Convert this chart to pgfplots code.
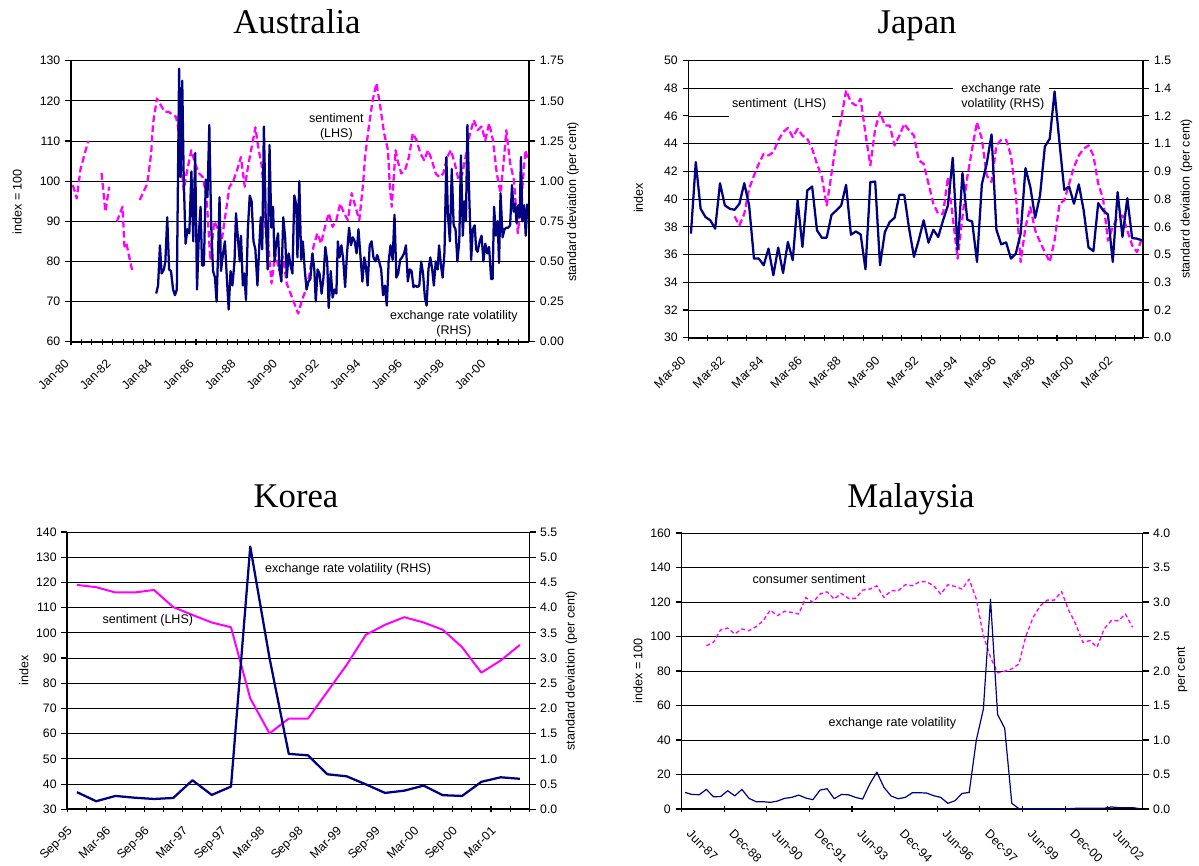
\documentclass[border=0pt]{standalone}
\usepackage{fontspec}
\setmainfont{Liberation Sans}
\newfontfamily\titlefont{Liberation Serif}
\usepackage{pgfplots}
\pgfplotsset{compat=1.18}
\definecolor{navy}{RGB}{0,0,128}
\definecolor{mag}{RGB}{255,0,255}
\pgfplotsset{
  common/.style={scale only axis, axis line style={line width=1.3pt,-},
    tick style={black,line width=0.8pt}, major tick length=4.5pt, minor tick length=4.5pt,
    xtick align=center, ytick align=outside,
    tick label style={font=\fontsize{9.2}{11}\selectfont},
    /pgf/number format/assume math mode=true, scaled y ticks=false,
    unbounded coords=jump},
  lhs/.style={common, axis x line*=bottom, axis y line*=left, ymajorgrids,
    grid style={black,line width=0.6pt}},
  rhs/.style={common, axis x line=none, axis y line*=right},
}
\begin{document}
\begin{tikzpicture}
\path[use as bounding box] (0pt,0pt) rectangle (899.25pt,648.75pt);
\tikzset{lab/.style={font=\fontsize{9.4}{11.25}\selectfont}}
% ---------------- titles -----------------
\node[anchor=base,font=\titlefont\fontsize{26}{30}\selectfont] at (222.75pt,623.25pt) {Australia};
\node[anchor=base,font=\titlefont\fontsize{26}{30}\selectfont] at (687.75pt,623.25pt) {Japan};
\node[anchor=base,font=\titlefont\fontsize{26}{30}\selectfont] at (222pt,268.5pt) {Korea};
\node[anchor=base,font=\titlefont\fontsize{26}{30}\selectfont] at (683.25pt,268.5pt) {Malaysia};
% ---------------- axis labels -----------------
\node[lab,rotate=90] at (12.9pt,497.475pt) {index = 100};
\node[lab,rotate=90] at (429.75pt,497.25pt) {standard deviation (per cent)};
\node[lab,rotate=90] at (478.8pt,500.25pt) {index};
\node[lab,rotate=90] at (889.725pt,499.5pt) {standard deviation (per cent)};
\node[lab,rotate=90] at (17.85pt,145.725pt) {index};
\node[lab,rotate=90] at (428.625pt,145.725pt) {standard deviation (per cent)};
\node[lab,rotate=90] at (478.5pt,145.725pt) {index = 100};
\node[lab,rotate=90] at (886.5pt,146.25pt) {per cent};

% ================= AUSTRALIA =================
\begin{axis}[lhs, at={(53.25pt,392.475pt)}, anchor=south west, width=343.7pt, height=210.75pt,
  xmin=0, xmax=22, ymin=60, ymax=130, ytick={60,70,...,130},
  xtick={0,2,...,20}, minor xtick={0,0.5,...,21.5},
  xticklabel style={anchor=north east, inner sep=1pt, xshift=-5.5pt, yshift=-8.5pt, rotate=45},
  xticklabels={Jan-80,Jan-82,Jan-84,Jan-86,Jan-88,Jan-90,Jan-92,Jan-94,Jan-96,Jan-98,Jan-00}]
\addplot[mag, line width=1.7pt, dash pattern=on 5pt off 2.5pt, line join=round] coordinates {
(0.09,99)(0.275,95.7)(0.458,103)(0.642,106.5)(0.825,110)(1.1,nan)
(1.467,102)(1.65,92.4)(1.833,98.6)(2.0,nan)
(2.2,89.9)(2.475,93.6)(2.566,83.7)(2.658,84.5)(2.933,77.8)(3.1,nan)
(3.3,95.3)(3.666,99.4)(3.85,107)(3.941,114.4)(4.125,120.6)(4.491,117.3)(4.675,117.3)
(5.041,116)(5.133,113.6)(5.408,97.8)(5.591,103)(5.775,107.7)(5.958,104.4)(6.141,102)
(6.325,101)(6.508,96)(6.691,80.3)(6.875,90)(7.058,88)(7.241,85.3)(7.424,92)(7.608,98.6)
(7.791,100)(7.974,102.8)(8.158,106)(8.341,98.6)(8.524,104.4)(8.708,109.4)(8.854,113.4)
(8.983,108.6)(9.166,103.6)(9.349,87)(9.441,86.5)(9.624,74.5)(9.807,82)(9.991,77.8)
(10.174,81.2)(10.357,74.5)(10.541,72)(10.724,69.5)(10.907,67)(11.09,70.4)(11.274,72.9)
(11.457,77)(11.641,83.7)(11.824,87)(12.007,84.5)(12.191,88.6)(12.374,92)(12.557,88.6)
(12.741,90.3)(12.924,94.4)(13.107,92)(13.291,90.3)(13.474,97)(13.657,93.6)(13.841,90.3)
(14.024,99.4)(14.116,106)(14.299,113.6)(14.482,120.2)(14.666,124.4)(14.849,118.5)
(15.032,111.9)(15.216,107.7)(15.307,98.6)(15.399,93.6)(15.582,107.7)(15.674,105.2)
(15.857,101.9)(16.04,102.8)(16.224,106)(16.407,111.9)(16.59,110.2)(16.774,106.9)
(16.957,105.2)(17.14,107.7)(17.324,105.2)(17.507,101.9)(17.69,101)(17.874,101.9)
(18.057,106)(18.24,107.7)(18.423,104.4)(18.607,100.3)(18.79,101.9)(18.973,106.9)
(19.157,111.9)(19.34,115.2)(19.523,112.7)(19.707,113.6)(19.89,110.2)(20.073,114.4)
(20.257,110.2)(20.44,101.9)(20.623,97)(20.807,106.9)(20.898,112.7)(21.082,104.4)
(21.265,100.3)(21.449,87)(21.632,96)(21.815,107.7)(21.944,105.2)};
\node[lab,align=center] at (axis cs:12.74,113.6) {sentiment\\(LHS)};
\node[lab,align=center] at (axis cs:18.38,64.55) {exchange rate volatility\\(RHS)};
\end{axis}
\begin{axis}[rhs, at={(53.25pt,392.475pt)}, anchor=south west, width=343.7pt, height=210.75pt,
  xmin=0, xmax=22, ymin=0, ymax=1.75, ytick={0,0.25,...,1.75},
  yticklabel style={/pgf/number format/.cd, fixed, fixed zerofill, precision=2}]
\addplot[navy, line width=1.7pt, line join=round] coordinates {
(4.09,0.30)(4.18,0.35)(4.27,0.60)(4.35,0.425)(4.46,0.45)(4.53,0.50)(4.62,0.775)(4.71,0.45)
(4.80,0.44)(4.90,0.325)(4.99,0.29)(5.08,0.325)(5.19,1.70)(5.26,1.025)(5.34,1.625)(5.41,1.025)
(5.50,0.61)(5.59,0.70)(5.68,0.675)(5.78,1.06)(5.87,0.625)(5.96,1.175)(6.05,0.325)(6.14,0.675)
(6.22,0.84)(6.29,0.475)(6.38,0.475)(6.47,1.01)(6.55,0.90)(6.64,1.35)(6.73,0.725)(6.82,0.44)
(6.91,0.40)(6.99,0.25)(7.06,0.55)(7.13,0.90)(7.20,0.44)(7.30,0.55)(7.39,0.625)(7.48,0.40)
(7.57,0.20)(7.66,0.44)(7.75,0.35)(7.85,0.50)(7.92,0.80)(8.01,0.65)(8.10,0.50)(8.16,0.66)
(8.25,0.35)(8.32,0.425)(8.40,0.26)(8.49,0.70)(8.58,0.91)(8.67,0.875)(8.76,0.625)(8.85,0.575)
(8.95,0.35)(9.04,0.60)(9.11,0.775)(9.18,0.575)(9.26,1.34)(9.35,0.75)(9.44,0.45)(9.53,1.225)
(9.62,0.71)(9.70,0.84)(9.77,0.50)(9.84,0.60)(9.94,0.675)(10.01,0.45)(10.10,0.375)(10.19,0.775)
(10.28,0.65)(10.36,0.40)(10.45,0.55)(10.54,0.475)(10.63,0.425)(10.72,0.91)(10.82,0.85)
(10.87,0.525)(10.96,1.00)(11.05,0.51)(11.13,0.625)(11.22,0.45)(11.31,0.325)(11.40,0.375)
(11.49,0.39)(11.59,0.55)(11.68,0.45)(11.75,0.25)(11.84,0.45)(11.93,0.425)(12.03,0.30)
(12.12,0.40)(12.21,0.59)(12.30,0.50)(12.37,0.21)(12.47,0.44)(12.56,0.275)(12.65,0.325)
(12.74,0.30)(12.81,0.625)(12.89,0.525)(12.98,0.60)(13.07,0.51)(13.16,0.34)(13.25,0.55)
(13.35,0.71)(13.44,0.60)(13.53,0.65)(13.62,0.625)(13.71,0.55)(13.80,0.70)(13.90,0.525)
(13.99,0.375)(14.08,0.525)(14.15,0.475)(14.24,0.35)(14.34,0.60)(14.43,0.625)(14.52,0.525)
(14.61,0.50)(14.70,0.54)(14.79,0.50)(14.89,0.45)(14.98,0.29)(15.07,0.35)(15.16,0.225)
(15.25,0.50)(15.34,0.60)(15.44,0.51)(15.53,0.79)(15.62,0.40)(15.71,0.425)(15.80,0.51)
(15.89,0.525)(15.99,0.55)(16.08,0.60)(16.17,0.375)(16.26,0.45)(16.35,0.44)(16.44,0.34)
(16.54,0.35)(16.63,0.34)(16.72,0.35)(16.81,0.50)(16.90,0.425)(16.99,0.275)(17.07,0.225)
(17.16,0.45)(17.25,0.525)(17.34,0.45)(17.42,0.35)(17.51,0.50)(17.60,0.45)(17.67,0.60)
(17.76,0.475)(17.84,0.40)(17.93,0.56)(18.02,1.15)(18.09,0.80)(18.19,0.625)(18.28,1.075)
(18.37,0.725)(18.46,0.70)(18.55,0.50)(18.64,0.625)(18.72,1.16)(18.81,0.66)(18.88,0.875)
(18.96,0.75)(19.03,1.35)(19.12,0.90)(19.21,0.51)(19.29,0.70)(19.38,0.725)(19.45,0.575)
(19.52,0.56)(19.62,0.625)(19.71,0.66)(19.80,0.50)(19.89,0.61)(19.98,0.55)(20.07,0.59)
(20.17,0.39)(20.24,0.39)(20.31,0.84)(20.40,0.66)(20.48,0.75)(20.55,0.49)(20.62,0.925)
(20.72,0.65)(20.81,0.70)(20.90,0.71)(20.99,0.71)(21.08,0.725)(21.17,0.975)(21.25,0.81)
(21.32,0.86)(21.39,0.74)(21.47,0.85)(21.54,0.775)(21.60,1.15)(21.67,0.75)(21.76,0.85)
(21.83,0.66)(21.91,0.86)};
\end{axis}

% ================= JAPAN =================
\begin{axis}[lhs, at={(516.375pt,395.475pt)}, anchor=south west, width=341.1pt, height=207.9pt,
  xmin=0, xmax=23.45, ymin=30, ymax=50, ytick={30,32,...,50},
  xtick={0,2,...,22}, minor xtick={0,1,...,23},
  xticklabel style={anchor=north east, inner sep=1pt, xshift=-6pt, yshift=-9.5pt, rotate=45},
  xticklabels={Mar-80,Mar-82,Mar-84,Mar-86,Mar-88,Mar-90,Mar-92,Mar-94,Mar-96,Mar-98,Mar-00,Mar-02}]
\addplot[mag, line width=1.7pt, dash pattern=on 5pt off 2.5pt, line join=round] coordinates {
(2.375,38.75)(2.625,38.1)(2.875,38.94)(3.125,40.75)(3.375,41.7)(3.625,42.55)(3.875,43.27)
(4.125,43.15)(4.375,43.39)(4.625,44.23)(4.875,44.83)(5.125,45.14)(5.375,44.47)(5.625,45.07)
(5.875,44.59)(6.125,44.35)(6.375,43.63)(6.625,42.55)(6.875,41.59)(7.125,39.54)(7.375,41.83)
(7.625,44.23)(7.875,45.79)(8.125,47.84)(8.375,47.0)(8.625,46.75)(8.875,47.24)(9.125,44.71)
(9.375,42.43)(9.625,45.07)(9.875,46.27)(10.125,45.31)(10.375,45.31)(10.625,43.87)
(10.875,44.59)(11.125,45.43)(11.375,44.95)(11.625,44.59)(11.875,42.79)(12.125,42.55)
(12.375,41.11)(12.625,39.66)(12.875,38.94)(13.125,38.94)(13.375,41.59)(13.625,38.7)
(13.875,35.7)(14.125,38.7)(14.375,41.59)(14.625,43.63)(14.875,45.55)(15.125,44.35)
(15.375,41.71)(15.625,41.23)(15.875,43.87)(16.125,44.28)(16.375,44.28)(16.625,43.15)
(16.875,40.38)(17.125,35.46)(17.375,37.98)(17.625,39.42)(17.875,37.74)(18.125,36.9)
(18.375,36.18)(18.625,35.46)(18.875,37.02)(19.125,39.66)(19.375,39.9)(19.625,41.11)
(19.875,42.31)(20.125,43.15)(20.375,43.63)(20.625,43.87)(20.875,43.15)(21.125,41.11)
(21.375,40.02)(21.625,37.0)(21.875,37.98)(22.125,38.7)(22.375,38.82)(22.625,37.74)
(22.875,36.66)(23.125,36.18)(23.375,37.14)};
\fill[white] (axis cs:2.08,45.87) rectangle (axis cs:7.41,47.48);
\fill[white] (axis cs:13.66,47.5) rectangle (axis cs:18.61,48.44);
\node[lab,anchor=west,inner sep=0pt] at (axis cs:2.24,46.875) {sentiment\ \ (LHS)};
\node[lab,anchor=west,inner sep=0pt] at (axis cs:14.06,47.96) {exchange rate};
\node[lab,anchor=west,inner sep=0pt] at (axis cs:14.06,46.875) {volatility (RHS)};
\end{axis}
\begin{axis}[rhs, at={(516.375pt,395.475pt)}, anchor=south west, width=341.1pt, height=207.9pt,
  xmin=0, xmax=23.45, ymin=0, ymax=1.5,
  ytick={0,0.15,0.3,0.45,0.6,0.75,0.9,1.05,1.2,1.35,1.5},
  yticklabels={0.0,0.2,0.3,0.5,0.6,0.8,0.9,1.1,1.2,1.4,1.5}]
\addplot[navy, line width=1.7pt, line join=round] coordinates {
(0.125,0.563)(0.375,0.950)(0.625,0.698)(0.875,0.653)(1.125,0.635)(1.375,0.590)(1.625,0.836)
(1.875,0.716)(2.125,0.698)(2.375,0.692)(2.625,0.725)(2.875,0.836)(3.125,0.716)(3.375,0.428)
(3.625,0.428)(3.875,0.392)(4.125,0.482)(4.375,0.338)(4.625,0.488)(4.875,0.350)(5.125,0.518)
(5.375,0.419)(5.625,0.743)(5.875,0.491)(6.125,0.797)(6.375,0.818)(6.625,0.581)(6.875,0.541)
(7.125,0.541)(7.375,0.665)(7.625,0.689)(7.875,0.716)(8.125,0.827)(8.375,0.557)(8.625,0.575)
(8.875,0.559)(9.125,0.370)(9.375,0.842)(9.625,0.845)(9.875,0.392)(10.125,0.572)(10.375,0.626)
(10.625,0.649)(10.875,0.773)(11.125,0.773)(11.375,0.590)(11.625,0.437)(11.875,0.530)
(12.125,0.635)(12.375,0.514)(12.625,0.584)(12.875,0.545)(13.125,0.635)(13.375,0.716)
(13.625,0.974)(13.875,0.476)(14.125,0.891)(14.375,0.638)(14.625,0.629)(14.875,0.410)
(15.125,0.830)(15.375,0.941)(15.625,1.100)(15.875,0.584)(16.125,0.505)(16.375,0.516)
(16.625,0.428)(16.875,0.455)(17.125,0.563)(17.375,0.918)(17.625,0.815)(17.875,0.649)
(18.125,0.770)(18.375,1.035)(18.625,1.076)(18.875,1.332)(19.125,1.058)(19.375,0.800)
(19.625,0.818)(19.875,0.725)(20.125,0.830)(20.375,0.689)(20.625,0.488)(20.875,0.469)
(21.125,0.728)(21.375,0.689)(21.625,0.667)(21.875,0.410)(22.125,0.788)(22.375,0.545)
(22.625,0.755)(22.875,0.539)(23.125,0.536)(23.375,0.527)};
\end{axis}

% ================= KOREA =================
\begin{axis}[lhs, at={(50.475pt,41.775pt)}, anchor=south west, width=346.65pt, height=208pt,
  xmin=0, xmax=24, ymin=30, ymax=140, ytick={30,40,...,140},
  xtick={0,2,...,22}, minor xtick={0,1,...,24},
  xticklabel style={anchor=north east, inner sep=1pt, xshift=-0.5pt, yshift=-8.5pt, rotate=45},
  xticklabels={Sep-95,Mar-96,Sep-96,Mar-97,Sep-97,Mar-98,Sep-98,Mar-99,Sep-99,Mar-00,Sep-00,Mar-01}]
\addplot[mag, line width=1.5pt, line join=round] coordinates {
(0.5,119)(1.5,118.1)(2.5,116)(3.5,116)(4.5,117)(5.5,110.2)(6.5,107.1)(7.5,104.1)(8.5,102.2)
(9.5,74)(10.5,60.1)(11.5,66)(12.5,66)(13.5,76.6)(14.5,87.2)(15.5,99.2)(16.5,103.2)(17.5,106.2)
(18.5,104.1)(19.5,101.2)(20.5,94.3)(21.5,84.2)(22.5,89)(23.5,95.2)};
\node[lab] at (axis cs:14.58,125.3) {exchange rate volatility (RHS)};
\node[lab] at (axis cs:4.18,104.9) {sentiment (LHS)};
\end{axis}
\begin{axis}[rhs, at={(50.475pt,41.775pt)}, anchor=south west, width=346.65pt, height=208pt,
  xmin=0, xmax=24, ymin=0, ymax=5.5, ytick={0,0.5,...,5.5},
  yticklabel style={/pgf/number format/.cd, fixed, fixed zerofill, precision=1}]
\addplot[navy, line width=1.7pt, line join=round] coordinates {
(0.5,0.34)(1.5,0.16)(2.5,0.265)(3.5,0.23)(4.5,0.205)(5.5,0.225)(6.5,0.575)(7.5,0.285)
(8.5,0.45)(9.5,5.21)(10.5,3.0)(11.5,1.10)(12.5,1.07)(13.5,0.695)(14.5,0.655)(15.5,0.495)
(16.5,0.325)(17.5,0.37)(18.5,0.47)(19.5,0.28)(20.5,0.265)(21.5,0.545)(22.5,0.635)(23.5,0.605)};
\end{axis}

% ================= MALAYSIA =================
\begin{axis}[lhs, at={(511.125pt,42pt)}, anchor=south west, width=345.75pt, height=207pt,
  xmin=0, xmax=64.9, ymin=0, ymax=160, ytick={0,20,...,160},
  xtick={0,6,...,60},
  xticklabel style={anchor=north west, inner sep=1pt, xshift=8pt, yshift=-11pt, rotate=-45},
  xticklabels={Jun-87,Dec-88,Jun-90,Dec-91,Jun-93,Dec-94,Jun-96,Dec-97,Jun-99,Dec-00,Jun-02}]
\addplot[mag, line width=1pt, dash pattern=on 3pt off 2pt, line join=round] coordinates {
(3.5,94.7)(4.5,96.6)(5.5,103.8)(6.5,104.9)(7.5,101.5)(8.5,104.4)(9.5,103.4)(10.5,105.7)
(11.5,109.2)(12.5,115.3)(13.5,112.1)(14.5,114.6)(15.5,114.0)(16.5,113.0)(17.5,122.6)
(18.5,119.8)(19.5,124.6)(20.5,125.9)(21.5,121.7)(22.5,125.0)(23.5,122.1)(24.5,122.1)
(25.5,126.9)(26.5,127.5)(27.5,129.4)(28.5,122.6)(29.5,126.5)(30.5,126.5)(31.5,130.0)
(32.5,129.4)(33.5,131.7)(34.5,131.7)(35.5,129.4)(36.5,124.6)(37.5,130.0)(38.5,129.0)
(39.5,127.5)(40.5,133.2)(41.5,121.7)(42.5,100.5)(43.5,88.0)(44.5,78.9)(45.5,79.9)(46.5,81.2)
(47.5,84.1)(48.5,100.5)(49.5,111.1)(50.5,117.8)(51.5,121.1)(52.5,121.1)(53.5,126.1)
(54.5,115.3)(55.5,107.2)(56.5,96.6)(57.5,97.6)(58.5,93.8)(59.5,104.4)(60.5,109.2)
(61.5,109.2)(62.5,113.0)(63.5,105.3)};
\node[lab] at (axis cs:17.96,133.6) {consumer sentiment};
\node[lab] at (axis cs:29.68,49.5) {exchange rate volatility};
\end{axis}
\begin{axis}[rhs, at={(511.125pt,42pt)}, anchor=south west, width=345.75pt, height=207pt,
  xmin=0, xmax=64.9, ymin=0, ymax=4, ytick={0,0.5,...,4},
  yticklabel style={/pgf/number format/.cd, fixed, fixed zerofill, precision=1}]
\addplot[navy, line width=0.9pt, line join=round] coordinates {
(0.5,0.24)(1.5,0.21)(2.5,0.207)(3.5,0.284)(4.5,0.178)(5.5,0.18)(6.5,0.265)(7.5,0.19)
(8.5,0.284)(9.5,0.154)(10.5,0.106)(11.5,0.106)(12.5,0.096)(13.5,0.115)(14.5,0.154)
(15.5,0.168)(16.5,0.202)(17.5,0.159)(18.5,0.135)(19.5,0.274)(20.5,0.294)(21.5,0.149)
(22.5,0.21)(23.5,0.207)(24.5,0.168)(25.5,0.144)(26.5,0.361)(27.5,0.534)(28.5,0.313)
(29.5,0.188)(30.5,0.149)(31.5,0.168)(32.5,0.236)(33.5,0.236)(34.5,0.231)(35.5,0.193)
(36.5,0.168)(37.5,0.082)(38.5,0.12)(39.5,0.226)(40.5,0.24)(41.5,0.996)(42.5,1.45)
(43.5,3.04)(44.5,1.37)(45.5,1.17)(46.5,0.082)(47.5,0.005)(48.5,0.005)(49.5,0.005)
(50.5,0.005)(51.5,0.005)(52.5,0.005)(53.5,0.005)(54.5,0.005)(55.5,0.01)(56.5,0.01)
(57.5,0.01)(58.5,0.01)(59.5,0.01)(60.5,0.03)(61.5,0.02)(62.5,0.02)(63.5,0.02)(64.5,0.005)};
\end{axis}
\end{tikzpicture}
\end{document}
